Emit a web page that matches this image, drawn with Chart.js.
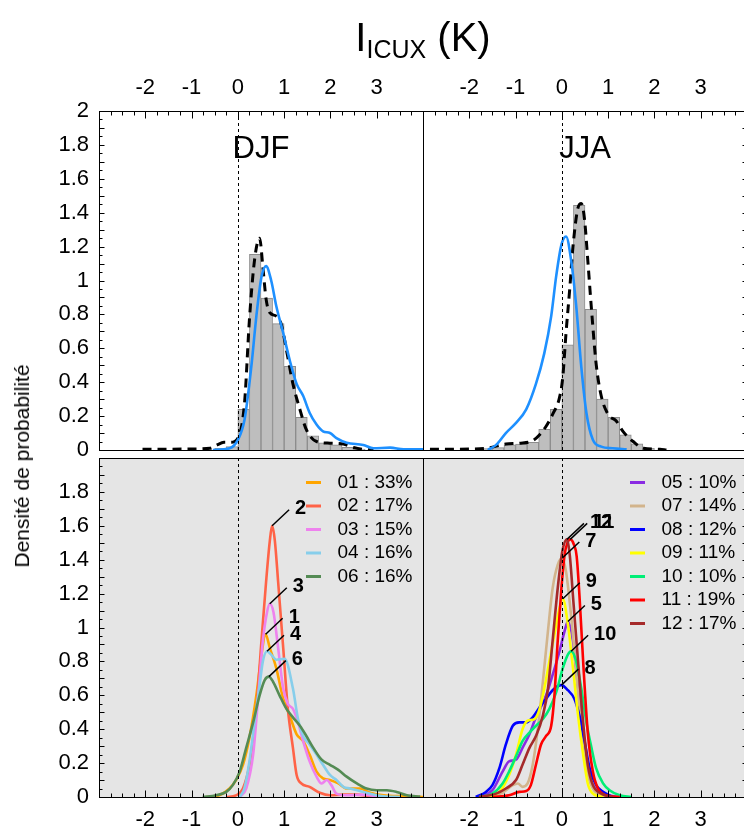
<!DOCTYPE html>
<html><head><meta charset="utf-8">
<script src="https://cdn.jsdelivr.net/npm/chart.js@4.4.1/dist/chart.umd.min.js"></script>
<style>
html,body{margin:0;padding:0;background:#fff;overflow:hidden;width:744px;height:830px}
#wrap{position:relative;width:744px;height:830px;overflow:hidden;font-family:"Liberation Sans",Arial,sans-serif;color:#000}
canvas{position:absolute}
#title{position:absolute;left:99px;width:648px;top:17px;text-align:center;font-size:40px;line-height:40px;white-space:nowrap}
#title sub{font-size:25px;vertical-align:-7px;line-height:0}
#ytitle{position:absolute;left:22px;top:466px;transform:translate(-50%,-50%) rotate(-90deg);font-size:21px;white-space:nowrap}
</style>
</head><body>
<div id="wrap">
<canvas id="tl" width="424" height="480" style="left:0;top:0"></canvas>
<canvas id="tr" width="330" height="480" style="left:423px;top:0"></canvas>
<canvas id="bl" width="424" height="402" style="left:0;top:428px"></canvas>
<canvas id="br" width="330" height="402" style="left:423px;top:428px"></canvas>
<div id="title">I<sub>ICUX</sub> (K)</div>
<div id="ytitle">Densité de probabilité</div>
</div>
<script>
// ---------------- data ----------------
const xTickValues = [-2, -1, 0, 1, 2, 3];
const yTickValues = [0, 0.2, 0.4, 0.6, 0.8, 1, 1.2, 1.4, 1.6, 1.8, 2];
const yTickValuesLower = [0, 0.2, 0.4, 0.6, 0.8, 1, 1.2, 1.4, 1.6, 1.8];
const xRange = [-3, 4];
const yRange = [0, 2];
const seasons = ['DJF', 'JJA'];

// histograms (bin centres, bin width 0.25)
const djfBinCenters = [-0.375, -0.125, 0.125, 0.375, 0.625, 0.875, 1.125, 1.375, 1.625, 1.875, 2.125, 2.375, 2.625];
const djfBinHeights = [0.01, 0.02, 0.24, 1.154, 0.897, 0.746, 0.493, 0.193, 0.083, 0.043, 0.03, 0.016, 0.006];
const jjaBinCenters = [-1.625, -1.375, -1.125, -0.875, -0.625, -0.375, -0.125, 0.125, 0.375, 0.625, 0.875, 1.125, 1.375, 1.625, 1.875];
const jjaBinHeights = [0.008, 0.014, 0.03, 0.035, 0.045, 0.122, 0.24, 0.62, 1.444, 0.83, 0.30, 0.193, 0.089, 0.036, 0.01];

// observed density (dashed) and model density (blue), [x, y]
const djfObs = [[-2.06,0.005],[-1.5,0.005],[-1.0,0.006],[-0.6,0.01],[-0.45,0.03],[-0.3,0.045],[-0.15,0.045],[0,0.07],[0.145,0.28],[0.25,0.77],[0.36,1.12],[0.47,1.25],[0.54,1.08],[0.61,0.89],[0.69,0.81],[0.83,0.79],[0.94,0.74],[1.05,0.59],[1.19,0.39],[1.34,0.24],[1.48,0.12],[1.7,0.05],[1.99,0.04],[2.28,0.035],[2.5,0.015],[2.71,0.004],[2.93,0]];
const djfMod = [[-0.54,0],[-0.18,0.01],[0,0.06],[0.145,0.18],[0.29,0.49],[0.4,0.79],[0.51,1.02],[0.61,1.085],[0.72,1.0],[0.83,0.85],[0.98,0.69],[1.12,0.53],[1.27,0.39],[1.41,0.32],[1.55,0.22],[1.7,0.15],[1.84,0.11],[1.99,0.1],[2.13,0.07],[2.35,0.043],[2.71,0.03],[2.93,0.01],[3.29,0.014],[3.58,0.004],[4.0,0.004]];
const jjaObs = [[-2.85,0.005],[-2.5,0.004],[-2.0,0.006],[-1.64,0.01],[-1.21,0.035],[-0.92,0.04],[-0.63,0.055],[-0.48,0.09],[-0.34,0.14],[-0.2,0.21],[-0.05,0.31],[0.02,0.43],[0.09,0.69],[0.17,0.95],[0.24,1.2],[0.35,1.43],[0.42,1.455],[0.49,1.36],[0.56,1.12],[0.64,0.83],[0.74,0.51],[0.85,0.32],[1.0,0.21],[1.18,0.17],[1.32,0.11],[1.54,0.05],[1.76,0.01],[2.12,0.004],[2.26,0]];
const jjaMod = [[-1.6,0],[-1.42,0.03],[-1.21,0.1],[-0.99,0.16],[-0.77,0.24],[-0.56,0.39],[-0.38,0.57],[-0.23,0.79],[-0.12,1.03],[-0.01,1.21],[0.09,1.26],[0.2,1.12],[0.31,0.85],[0.42,0.49],[0.53,0.22],[0.67,0.06],[0.85,0.02],[1.1,0.01],[1.4,0.004]];

// lower panels: regime densities
const djfCodes = ['01', '02', '03', '04', '06'];
const djfShares = [33, 17, 15, 16, 16];
const djf01 = [[-0.69,0],[-0.4,0.01],[-0.18,0.05],[-0.04,0.1],[0.11,0.19],[0.25,0.35],[0.4,0.6],[0.51,0.84],[0.6,0.96],[0.69,0.88],[0.83,0.76],[0.98,0.58],[1.12,0.48],[1.27,0.37],[1.41,0.33],[1.55,0.25],[1.7,0.15],[1.84,0.11],[1.99,0.1],[2.17,0.08],[2.35,0.05],[2.64,0.05],[2.86,0.025],[3.15,0.01],[3.58,0.004],[4.0,0]];
const djf02 = [[-0.25,0],[-0.04,0.01],[0.11,0.05],[0.25,0.19],[0.4,0.52],[0.51,0.92],[0.61,1.27],[0.69,1.51],[0.74,1.6],[0.8,1.51],[0.87,1.27],[0.98,0.88],[1.08,0.52],[1.19,0.29],[1.27,0.13],[1.37,0.08],[1.55,0.06],[1.77,0.025],[1.99,0.01],[2.28,0.014],[2.57,0.014],[2.86,0.004],[3.2,0]];
const djf03 = [[0.04,0],[0.18,0.05],[0.33,0.25],[0.43,0.56],[0.54,0.92],[0.63,1.09],[0.69,1.14],[0.77,1.09],[0.87,0.88],[0.98,0.64],[1.08,0.55],[1.19,0.52],[1.3,0.44],[1.41,0.33],[1.55,0.21],[1.7,0.12],[1.81,0.08],[1.92,0.1],[2.02,0.07],[2.13,0.02],[2.35,0.01],[2.71,0.014],[3.07,0]];
const djf04 = [[0.04,0],[0.14,0.05],[0.25,0.21],[0.36,0.44],[0.47,0.66],[0.54,0.8],[0.63,0.86],[0.72,0.84],[0.83,0.81],[1.01,0.815],[1.19,0.64],[1.3,0.46],[1.41,0.36],[1.55,0.31],[1.7,0.25],[1.84,0.19],[1.99,0.13],[2.13,0.1],[2.28,0.06],[2.42,0.05],[2.71,0.03],[3.15,0.004],[3.5,0]];
const djf06 = [[-0.76,0],[-0.47,0.01],[-0.25,0.03],[-0.11,0.07],[0.04,0.15],[0.18,0.29],[0.33,0.44],[0.47,0.6],[0.58,0.69],[0.67,0.71],[0.76,0.68],[0.9,0.6],[1.05,0.52],[1.19,0.47],[1.34,0.42],[1.48,0.36],[1.63,0.29],[1.81,0.22],[1.99,0.19],[2.17,0.16],[2.35,0.12],[2.57,0.08],[2.78,0.05],[3.0,0.04],[3.22,0.04],[3.43,0.03],[3.65,0.01],[3.94,0.003]];

const jjaCodes = ['05', '07', '08', '09', '10', '11', '12'];
const jjaShares = [10, 14, 12, 11, 10, 19, 17];
const jja05 = [[-1.79,0],[-1.5,0.04],[-1.28,0.15],[-1.14,0.21],[-0.99,0.22],[-0.85,0.29],[-0.7,0.37],[-0.59,0.45],[-0.34,0.6],[-0.2,0.72],[-0.05,0.86],[0.06,0.98],[0.13,1.035],[0.24,0.92],[0.35,0.64],[0.46,0.36],[0.56,0.17],[0.67,0.07],[0.89,0.02],[1.25,0]];
const jja07 = [[-1.79,0],[-1.5,0.01],[-1.28,0.025],[-1.06,0.07],[-0.95,0.08],[-0.85,0.06],[-0.74,0.08],[-0.63,0.19],[-0.52,0.4],[-0.41,0.68],[-0.3,0.98],[-0.2,1.23],[-0.09,1.37],[0.01,1.41],[0.09,1.33],[0.2,1.07],[0.31,0.74],[0.42,0.4],[0.53,0.17],[0.67,0.05],[0.89,0.01],[1.1,0]];
const jja08 = [[-1.86,0],[-1.64,0.03],[-1.5,0.07],[-1.35,0.17],[-1.21,0.31],[-1.06,0.42],[-0.92,0.44],[-0.77,0.44],[-0.63,0.47],[-0.48,0.53],[-0.34,0.58],[-0.2,0.63],[-0.01,0.66],[0.13,0.63],[0.27,0.58],[0.38,0.48],[0.49,0.33],[0.6,0.17],[0.74,0.07],[0.89,0.03],[1.1,0]];
const jja09 = [[-1.64,0],[-1.35,0.03],[-1.14,0.13],[-0.99,0.25],[-0.85,0.4],[-0.74,0.45],[-0.59,0.46],[-0.48,0.52],[-0.38,0.64],[-0.27,0.8],[-0.16,0.96],[-0.07,1.09],[0.02,1.17],[0.13,1.02],[0.24,0.76],[0.35,0.48],[0.46,0.25],[0.56,0.08],[0.67,0.02],[0.89,0]];
const jja10 = [[-1.79,0],[-1.5,0.02],[-1.28,0.08],[-1.14,0.15],[-0.99,0.24],[-0.85,0.33],[-0.7,0.38],[-0.56,0.42],[-0.41,0.46],[-0.27,0.52],[-0.12,0.62],[0.02,0.76],[0.13,0.84],[0.2,0.86],[0.31,0.8],[0.42,0.64],[0.53,0.44],[0.64,0.29],[0.74,0.17],[0.89,0.08],[1.03,0.04],[1.25,0.01],[1.5,0]];
const jja11 = [[-1.5,0],[-1.14,0.01],[-0.92,0.03],[-0.77,0.035],[-0.67,0.07],[-0.56,0.19],[-0.45,0.31],[-0.34,0.36],[-0.23,0.42],[-0.16,0.6],[-0.09,0.92],[-0.01,1.23],[0.06,1.43],[0.12,1.5],[0.18,1.52],[0.26,1.49],[0.32,1.42],[0.38,1.19],[0.46,0.8],[0.56,0.38],[0.67,0.15],[0.78,0.05],[0.96,0.01],[1.25,0]];
const jja12 = [[-1.79,0],[-1.42,0.02],[-1.21,0.05],[-0.99,0.1],[-0.85,0.19],[-0.7,0.29],[-0.56,0.36],[-0.41,0.48],[-0.3,0.64],[-0.2,0.92],[-0.09,1.23],[0.01,1.45],[0.11,1.52],[0.17,1.43],[0.25,1.15],[0.35,0.8],[0.46,0.44],[0.56,0.19],[0.67,0.07],[0.85,0.02],[1.1,0]];

// ---------------- styles ----------------
const FONT = '"Liberation Sans", Arial, Helvetica, sans-serif';
const djfColors = ['#FFA500', '#FF6347', '#EE82EE', '#87CEEB', '#548B54'];
const jjaColors = ['#8A2BE2', '#D2B48C', '#0000FF', '#FFFF00', '#00EE76', '#FF0000', '#A52A2A'];
const modelBlue = '#1E90FF';
Chart.defaults.font.family = FONT;
Chart.defaults.color = '#000';

const pts = arr => arr.map(p => ({x: p[0], y: p[1]}));

function curveDataset(arr, color, order) {
  return {type: 'line', data: pts(arr), borderColor: color, borderWidth: 2.6, pointRadius: 0,
    fill: false, tension: 0.4, cubicInterpolationMode: 'monotone', order};
}

function peakItems(curves, codes) {
  return curves.map((c, i) => {
    let best = c[0];
    c.forEach(p => { if (p[1] > best[1]) best = p; });
    return {x: best[0], y: best[1], label: String(parseInt(codes[i], 10))};
  });
}

const deco = {
  id: 'deco',
  beforeDraw(chart, args, o) {
    if (!o.background) return;
    const {ctx, chartArea: a} = chart;
    ctx.save();
    ctx.fillStyle = o.background;
    ctx.fillRect(a.left, a.top, a.right - a.left, a.bottom - a.top);
    ctx.restore();
  },
  afterDatasetsDraw(chart, args, o) {
    const {ctx, chartArea: a, scales: {x, y}} = chart;
    ctx.save();
    ctx.beginPath(); ctx.rect(a.left, a.top, a.right - a.left, a.bottom - a.top); ctx.clip();
    // zero line
    const zx = Math.round(x.getPixelForValue(0)) + 0.5;
    ctx.strokeStyle = '#000'; ctx.lineWidth = 1; ctx.setLineDash([3, 3]);
    ctx.beginPath(); ctx.moveTo(zx, a.top); ctx.lineTo(zx, a.bottom); ctx.stroke();
    ctx.setLineDash([]);
    // peak labels
    if (o.peaks) {
      ctx.font = 'bold 20px ' + FONT; ctx.fillStyle = '#000'; ctx.lineWidth = 1.5;
      ctx.textAlign = 'left'; ctx.textBaseline = 'middle';
      o.peaks.forEach(p => {
        const px = x.getPixelForValue(p.x), py = y.getPixelForValue(p.y);
        const ex = px + 17, ey = py - 16;
        ctx.beginPath(); ctx.moveTo(px, py); ctx.lineTo(ex, ey); ctx.stroke();
        ctx.fillText(p.label, ex + 6, ey - 1);
      });
    }
    // legend
    if (o.legend) {
      ctx.font = '19px ' + FONT; ctx.textAlign = 'left'; ctx.textBaseline = 'middle';
      o.legend.forEach((it, i) => {
        const ry = a.top + 24.5 + i * 23.5;
        ctx.strokeStyle = it.color; ctx.lineWidth = 3;
        ctx.beginPath(); ctx.moveTo(a.right - 117, ry); ctx.lineTo(a.right - 102, ry); ctx.stroke();
        ctx.fillStyle = '#000';
        ctx.fillText(it.text, a.right - 85.5, ry);
      });
    }
    // season label
    if (o.season) {
      ctx.font = '31px ' + FONT; ctx.fillStyle = '#000'; ctx.textAlign = 'center'; ctx.textBaseline = 'alphabetic';
      ctx.fillText(o.season, x.getPixelForValue(0.5), y.getPixelForValue(1.72));
    }
    ctx.restore();
    // ticks (inward) and frame
    ctx.save();
    ctx.strokeStyle = '#000'; ctx.lineWidth = 1;
    ctx.beginPath();
    const T = Math.round(a.top) + 0.5, B = Math.round(a.bottom) + 0.5;
    const L = Math.round(a.left) + 0.5, R = Math.round(a.right) + 0.5;
    for (let k = 0; k <= 28; k++) {
      const v = xRange[0] + k * 0.25;
      const px = Math.round(x.getPixelForValue(v)) + 0.5;
      const len = (k % 4 === 0) ? 7 : 4;
      if (o.xEdge === 'top') { ctx.moveTo(px, T); ctx.lineTo(px, T + len); }
      else { ctx.moveTo(px, B); ctx.lineTo(px, B - len); }
    }
    for (let k = 0; k <= 40; k++) {
      const v = yRange[0] + k * 0.05;
      const py = Math.round(y.getPixelForValue(v)) + 0.5;
      const len = (k % 2 === 0) ? 5 : 3;
      if (o.yEdge === 'left') { ctx.moveTo(L, py); ctx.lineTo(L + len, py); }
      else { ctx.moveTo(R, py); ctx.lineTo(R - len, py); }
    }
    ctx.stroke();
    ctx.strokeRect(L, T, R - L, B - T);
    ctx.restore();
  }
};

function makePanel(id, cfg) {
  return new Chart(document.getElementById(id), {
    type: 'line',
    data: {datasets: cfg.datasets},
    options: {
      responsive: false, animation: false, devicePixelRatio: 1,
      layout: {padding: cfg.padding},
      events: [],
      plugins: {legend: {display: false}, tooltip: {enabled: false}, deco: cfg.deco},
      scales: {
        x: {type: 'linear', position: cfg.xPos, min: xRange[0], max: xRange[1], offset: false,
          grid: {display: false, drawTicks: false}, border: {display: false},
          afterBuildTicks: s => { s.ticks = xTickValues.map(v => ({value: v})); },
          afterFit: s => { s.height = cfg.xAxisHeight; },
          ticks: {font: {size: 22}, padding: 10, maxRotation: 0, autoSkip: false, color: '#000',
            callback: v => String(v)}},
        y: {type: 'linear', display: cfg.showY, min: yRange[0], max: yRange[1],
          grid: {display: false, drawTicks: false}, border: {display: false},
          afterBuildTicks: s => { s.ticks = cfg.yTicks.map(v => ({value: v})); },
          afterFit: s => { s.width = cfg.showY ? 99 : 0; },
          ticks: {font: {size: 22}, padding: 10, autoSkip: false, color: '#000',
            callback: v => String(+Number(v).toFixed(1))}}
      }
    },
    plugins: [deco]
  });
}

function topDatasets(centers, heights, obs, mod) {
  return [
    {type: 'bar', data: centers.map((c, i) => ({x: c, y: heights[i]})), backgroundColor: '#BEBEBE',
      borderColor: '#8C8C8C', borderWidth: 1, barPercentage: 1, categoryPercentage: 1, order: 3},
    {type: 'line', data: pts(obs), borderColor: '#000', borderWidth: 3, borderDash: [9, 6], pointRadius: 0,
      fill: false, tension: 0.4, cubicInterpolationMode: 'monotone', order: 2},
    curveDataset(mod, modelBlue, 1)
  ];
}

makePanel('tl', {
  datasets: topDatasets(djfBinCenters, djfBinHeights, djfObs, djfMod),
  padding: {left: 0, top: 0, right: 1, bottom: 30}, xPos: 'top', xAxisHeight: 111, showY: true, yTicks: yTickValues,
  deco: {xEdge: 'top', yEdge: 'left', season: seasons[0]}
});
makePanel('tr', {
  datasets: topDatasets(jjaBinCenters, jjaBinHeights, jjaObs, jjaMod),
  padding: {left: 0, top: 0, right: 6, bottom: 30}, xPos: 'top', xAxisHeight: 111, showY: false, yTicks: yTickValues,
  deco: {xEdge: 'top', yEdge: 'right', season: seasons[1]}
});

const djfCurves = [djf01, djf02, djf03, djf04, djf06];
const jjaCurves = [jja05, jja07, jja08, jja09, jja10, jja11, jja12];

makePanel('bl', {
  datasets: djfCurves.map((c, i) => curveDataset(c, djfColors[i], djfCurves.length - i)),
  padding: {left: 0, top: 30, right: 1, bottom: 0}, xPos: 'bottom', xAxisHeight: 33, showY: true, yTicks: yTickValuesLower,
  deco: {xEdge: 'bottom', yEdge: 'left', background: '#E5E5E5',
    peaks: peakItems(djfCurves, djfCodes),
    legend: djfCodes.map((c, i) => ({text: c + ' : ' + djfShares[i] + '%', color: djfColors[i]}))}
});
makePanel('br', {
  datasets: jjaCurves.map((c, i) => curveDataset(c, jjaColors[i], jjaCurves.length - i)),
  padding: {left: 0, top: 30, right: 6, bottom: 0}, xPos: 'bottom', xAxisHeight: 33, showY: false, yTicks: yTickValuesLower,
  deco: {xEdge: 'bottom', yEdge: 'right', background: '#E5E5E5',
    peaks: peakItems(jjaCurves, jjaCodes),
    legend: jjaCodes.map((c, i) => ({text: c + ' : ' + jjaShares[i] + '%', color: jjaColors[i]}))}
});
</script>
</body></html>
